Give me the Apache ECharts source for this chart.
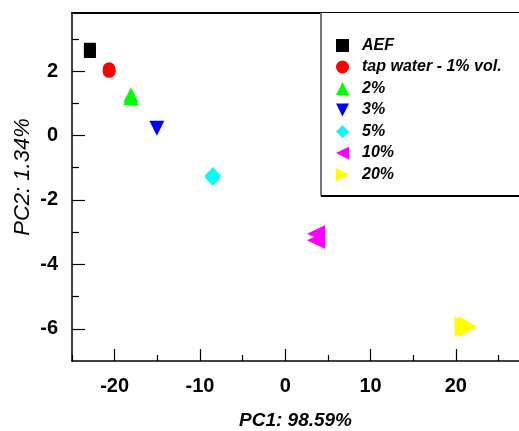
<!DOCTYPE html>
<html>
<head>
<meta charset="utf-8">
<script src="https://cdn.jsdelivr.net/npm/echarts@6/dist/echarts.min.js"></script>
<style>
html, body { margin: 0; padding: 0; background: #fff; }
#chart { width: 519px; height: 431px; }
</style>
</head>
<body>
<div id="chart"></div>
<script>
// PCA scores (replicates overlap, so some groups carry two points)
var groupNames = ['AEF', 'tap water - 1% vol.', '2%', '3%', '5%', '10%', '20%'];
var aef = [[-22.9, 2.69], [-22.9, 2.59]];
var tapWater = [[-20.65, 2.07], [-20.65, 1.99]];
var pct2 = [[-18.1, 1.26], [-18.1, 1.18]];
var pct3 = [[-15.05, 0.22]];
var pct5 = [[-8.5, -1.24], [-8.5, -1.3]];
var pct10 = [[3.6, -3.05], [3.6, -3.25]];
var pct20 = [[20.9, -5.93], [21.4, -5.93]];

var xMajorTicks = [-20, -10, 0, 10, 20];
var xMinorTicks = [-25, -15, -5, 5, 15, 25];
var yMajorTicks = [-6, -4, -2, 0, 2];
var yMinorTicks = [-5, -3, -1, 1, 3];

var groupData = [aef, tapWater, pct2, pct3, pct5, pct10, pct20];
var colors = ['#000000', '#ff0000', '#00ff00', '#0000ff', '#00ffff', '#ff00ff', '#ffff00'];
var symbols = [
    'rect',
    'circle',
    'triangle',
    'path://M0,0L10,0L5,10Z',
    'diamond',
    'path://M10,0L10,10L0,5Z',
    'path://M0,0L0,10L10,5Z'
];
var sizes = [12, 13, 15, 15, [16, 17], [18, 17], [18, 21]];

var font = 'Liberation Sans, Arial, sans-serif';

var series = groupNames.map(function(name, i) {
    return {
        name: name,
        type: 'scatter',
        data: groupData[i],
        symbol: symbols[i],
        symbolSize: sizes[i],
        itemStyle: { color: colors[i], opacity: 1 }
    };
});

var chart = echarts.init(document.getElementById('chart'));
chart.setOption({
    animation: false,
    grid: { left: 72, top: 13, right: 0, bottom: 70, outerBoundsMode: 'none', containLabel: false },
    graphic: [
        { type: 'rect', z: 1, shape: { x: 321, y: 13, width: 220, height: 183 },
          style: { fill: '#fff', stroke: null } },
        { type: 'line', z: 1, shape: { x1: 321, y1: 13, x2: 321, y2: 196 },
          style: { stroke: '#777', lineWidth: 2 } },
        { type: 'line', z: 1, shape: { x1: 321, y1: 196, x2: 519, y2: 196 },
          style: { stroke: '#000', lineWidth: 2 } }
    ],
    legend: {
        orient: 'vertical',
        left: 336,
        top: 37.5,
        padding: 0,
        itemWidth: 13,
        itemHeight: 13,
        itemGap: 5.5,
        textStyle: { fontFamily: font, fontSize: 16, fontWeight: 'bold', fontStyle: 'italic', color: '#000', padding: [0, 0, 0, 8] },
        data: groupNames
    },
    xAxis: [{
        type: 'value',
        position: 'bottom',
        min: -25,
        max: 27.4,
        name: 'PC1: 98.59%',
        nameLocation: 'middle',
        nameGap: 50,
        nameTextStyle: { fontFamily: font, fontSize: 19, fontWeight: 'bold', fontStyle: 'italic', color: '#000' },
        axisLine: { onZero: false, lineStyle: { color: '#000', width: 1.5 } },
        axisTick: { inside: true, length: 12, customValues: xMajorTicks, lineStyle: { color: '#000', width: 1.2 } },
        axisLabel: { customValues: xMajorTicks, margin: 15, fontFamily: font, fontSize: 20, fontWeight: 'bold', color: '#000' },
        splitLine: { show: false }
    }, {
        type: 'value',
        position: 'bottom',
        min: -25,
        max: 27.4,
        axisLine: { show: false, onZero: false },
        axisTick: { inside: true, length: 6, customValues: xMinorTicks, lineStyle: { color: '#000', width: 1.2 } },
        axisLabel: { show: false },
        splitLine: { show: false }
    }, {
        type: 'value',
        position: 'top',
        min: -25,
        max: 27.4,
        axisLine: { onZero: false, lineStyle: { color: '#000', width: 2 } },
        axisTick: { show: false },
        axisLabel: { show: false },
        splitLine: { show: false }
    }],
    yAxis: [{
        type: 'value',
        position: 'left',
        min: -7,
        max: 3.8,
        name: 'PC2: 1.34%',
        nameLocation: 'middle',
        nameGap: 38,
        nameMoveOverlap: false,
        nameTextStyle: { fontFamily: font, fontSize: 22, fontStyle: 'italic', color: '#000', padding: [0, 0, 0, 20] },
        axisLine: { onZero: false, lineStyle: { color: '#000', width: 1.5 } },
        axisTick: { inside: true, length: 13, customValues: yMajorTicks, lineStyle: { color: '#000', width: 1.2 } },
        axisLabel: { customValues: yMajorTicks, margin: 14, fontFamily: font, fontSize: 20, fontWeight: 'bold', color: '#000' },
        splitLine: { show: false }
    }, {
        type: 'value',
        position: 'left',
        min: -7,
        max: 3.8,
        axisLine: { show: false, onZero: false },
        axisTick: { inside: true, length: 7, customValues: yMinorTicks, lineStyle: { color: '#000', width: 1.2 } },
        axisLabel: { show: false },
        splitLine: { show: false }
    }],
    series: series
});
</script>
</body>
</html>
